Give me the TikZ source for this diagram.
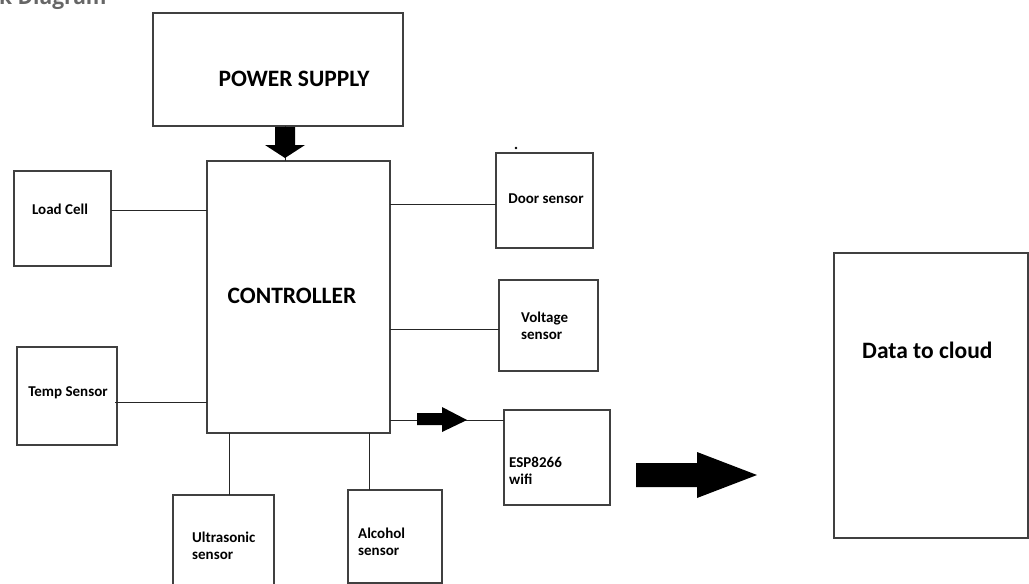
\documentclass[tikz,border=0pt]{standalone}
\usepackage{fontspec}
\setmainfont{Carlito}
\newfontfamily\titlefont{Open Sans}
\begin{document}
\begin{tikzpicture}[x=1pt,y=-1pt,
  blk/.style={draw=black!75,line width=1.2pt,fill=white},
  conn/.style={draw=black!85,line width=1pt},
  lbl/.style={font=\bfseries\fontsize{15}{17.5}\selectfont,align=left,inner sep=0pt},
  biglbl/.style={font=\bfseries\fontsize{23.5}{26}\selectfont,inner sep=0pt},
  fatarrow/.style={fill=black,draw=none}]
\useasboundingbox (0,0) rectangle (1029,584);
\begin{scope}
\clip (0,0) rectangle (1029,584);
\node[anchor=base west,inner sep=0pt,text=black!60,font=\titlefont\bfseries\fontsize{21}{23}\selectfont] (title) at (-1,4) {k Diagram};
% boxes
\draw[blk] (153,13) rectangle (403,126);
\draw[blk] (207,161) rectangle (390,433);
\draw[blk] (14,171) rectangle (111,266);
\draw[blk] (17,347) rectangle (117,445);
\draw[blk] (496,153) rectangle (593,248);
\draw[blk] (499,280) rectangle (598,371);
\draw[blk] (504,410) rectangle (610,505);
\draw[blk] (173,495) rectangle (274,600);
\draw[blk] (348,490) rectangle (442,583);
\draw[blk] (834,253) rectangle (1028,538);
\end{scope}
% named anchor coordinates
\coordinate (psB) at (285,126);
\coordinate (ctrT) at (285,161);
\coordinate (lcR) at (111,210); \coordinate (ctrL1) at (207,210);
\coordinate (tsR) at (115,402); \coordinate (ctrL2) at (207,402);
\coordinate (ctrR1) at (390,204); \coordinate (dsL) at (496,204);
\coordinate (ctrR2) at (390,329); \coordinate (vsL) at (499,329);
\coordinate (ctrR3) at (390,420); \coordinate (espL) at (504,420);
\coordinate (ctrB1) at (229,433); \coordinate (usT) at (229,495);
\coordinate (ctrB2) at (369,433); \coordinate (alT) at (369,490);
% connectors
\draw[conn] (psB) -- (ctrT);
\draw[conn] (lcR) -- (ctrL1);
\draw[conn] (tsR) -- (ctrL2);
\draw[conn] (ctrR1) -- (dsL);
\draw[conn] (ctrR2) -- (vsL);
\draw[conn] (ctrR3) -- (espL);
\draw[conn] (ctrB1) -- (usT);
\draw[conn] (ctrB2) -- (alT);
% fat arrows
\fill[fatarrow] (275,127) -- (295,127) -- (295,145) -- (305,145) -- (285,158) -- (265,145) -- (275,145) -- cycle;
\fill[fatarrow] (417,413) -- (442,413) -- (442,407) -- (467,420) -- (442,432) -- (442,425) -- (417,425) -- cycle;
\fill[fatarrow] (636,463) -- (697,463) -- (697,452) -- (757,475) -- (697,498) -- (697,487) -- (636,487) -- cycle;
\fill[black] (516,148) circle (1.3);
% labels
\node[biglbl] (pstext) at (294,79) {POWER SUPPLY};
\node[biglbl] (ctrtext) at (292,296) {CONTROLLER};
\node[biglbl,anchor=west] (cloud) at (862,350) {Data to cloud};
\node[lbl] (lc) at (60,209) {Load Cell};
\node[lbl] (ts) at (68,393) {Temp Sensor};
\node[lbl] (ds) at (546,199) {Door sensor};
\node[lbl,anchor=west] (vs) at (521,326) {Voltage\\sensor};
\node[lbl,anchor=west] (esp) at (509,471) {ESP8266\\wifi};
\node[lbl,anchor=west] (us) at (192,546) {Ultrasonic\\sensor};
\node[lbl,anchor=west] (al) at (358,542) {Alcohol\\sensor};
\end{tikzpicture}
\end{document}
